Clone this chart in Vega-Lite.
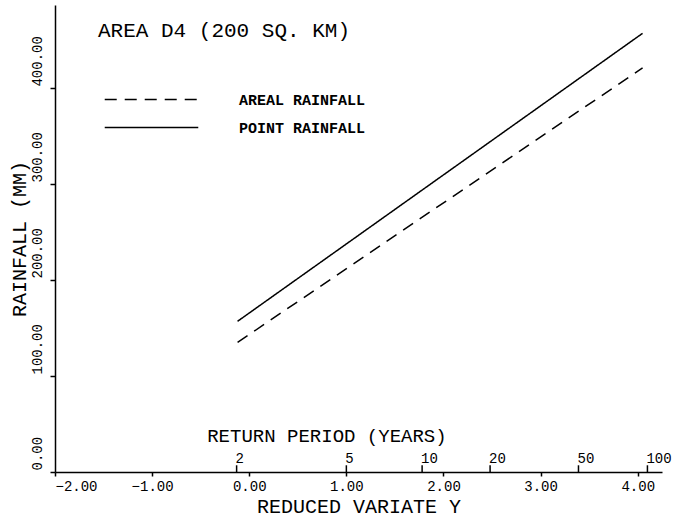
{
  "$schema": "https://vega.github.io/schema/vega-lite/v6.json",
  "width": 607,
  "height": 467,
  "autosize": "none",
  "padding": {"left": 55, "top": 5, "right": 29, "bottom": 50},
  "background": "white",
  "config": {
    "view": {"stroke": null},
    "font": "Liberation Mono",
    "axis": {
      "grid": false,
      "domainColor": "black",
      "domainWidth": 1.5,
      "tickColor": "black",
      "tickWidth": 1.5,
      "labelColor": "black",
      "titleColor": "black",
      "labelFont": "Liberation Mono",
      "titleFont": "Liberation Mono",
      "titleFontWeight": "normal"
    }
  },
  "title": {
    "text": "AREA D4 (200 SQ. KM)",
    "anchor": "start",
    "frame": "group",
    "orient": "top",
    "offset": 0,
    "dx": 43,
    "dy": 36,
    "baseline": "top",
    "font": "Liberation Mono",
    "fontSize": 21,
    "fontWeight": "normal",
    "color": "black"
  },
  "datasets": {
    "rainfall": [
      {"series": "AREAL RAINFALL", "variate": -0.12, "rainfall": 135},
      {"series": "AREAL RAINFALL", "variate": 4.05, "rainfall": 421},
      {"series": "POINT RAINFALL", "variate": -0.12, "rainfall": 157},
      {"series": "POINT RAINFALL", "variate": 4.05, "rainfall": 457}
    ],
    "periods": [
      {"period": "2", "variate": -0.13},
      {"period": "5", "variate": 1.0},
      {"period": "10", "variate": 1.78},
      {"period": "20", "variate": 2.48},
      {"period": "50", "variate": 3.39},
      {"period": "100", "variate": 4.1}
    ],
    "captions": [
      {"caption": "RETURN PERIOD (YEARS)", "variate": 0.8, "rainfall": 37}
    ]
  },
  "layer": [
    {
      "data": {"name": "rainfall"},
      "mark": {"type": "line", "stroke": "black", "strokeWidth": 1.5},
      "encoding": {
        "x": {
          "field": "variate",
          "type": "quantitative",
          "title": "REDUCED VARIATE Y",
          "scale": {"domain": [-2, 4.25], "nice": false, "zero": false},
          "axis": {
            "values": [-2, -1, 0, 1, 2, 3, 4],
            "format": ".2f",
            "tickSize": 4,
            "labelFontSize": 14,
            "labelPadding": 3,
            "titleFontSize": 20,
            "titlePadding": 3
          }
        },
        "y": {
          "field": "rainfall",
          "type": "quantitative",
          "title": "RAINFALL (MM)",
          "scale": {"domain": [0, 486.5], "nice": false},
          "axis": {
            "values": [0, 100, 200, 300, 400],
            "format": ".2f",
            "tickSize": 5,
            "labelAngle": -90,
            "labelAlign": "left",
            "labelBaseline": "bottom",
            "labelOffset": -2,
            "labelFontSize": 14,
            "labelPadding": 6,
            "titleFontSize": 20,
            "titlePadding": 1
          }
        },
        "strokeDash": {
          "field": "series",
          "type": "nominal",
          "scale": {
            "domain": ["AREAL RAINFALL", "POINT RAINFALL"],
            "range": [[12, 8], [1, 0]]
          },
          "legend": {
            "orient": "none",
            "legendX": 86,
            "legendY": 84,
            "title": null,
            "symbolType": "M-5,0H5",
            "symbolSize": 350,
            "symbolStrokeColor": "black",
            "symbolStrokeWidth": 1.5,
            "labelFont": "Liberation Mono",
            "labelFontSize": 15,
            "labelFontWeight": "bold",
            "labelColor": "black",
            "labelOffset": 77,
            "rowPadding": 9
          }
        }
      }
    },
    {
      "data": {"name": "periods"},
      "mark": {"type": "rule", "stroke": "black", "strokeWidth": 1.5},
      "encoding": {
        "x": {"field": "variate", "type": "quantitative", "title": "REDUCED VARIATE Y"},
        "y": {"datum": 0, "title": "RAINFALL (MM)"},
        "y2": {"datum": 7}
      }
    },
    {
      "data": {"name": "periods"},
      "mark": {"type": "text", "align": "left", "baseline": "middle", "dx": -1, "dy": -13, "fontSize": 14, "font": "Liberation Mono", "color": "black"},
      "encoding": {
        "x": {"field": "variate", "type": "quantitative", "title": "REDUCED VARIATE Y"},
        "y": {"datum": 0, "title": "RAINFALL (MM)"},
        "text": {"field": "period"}
      }
    },
    {
      "data": {"name": "captions"},
      "mark": {"type": "text", "align": "center", "baseline": "middle", "fontSize": 19, "font": "Liberation Mono", "color": "black"},
      "encoding": {
        "x": {"field": "variate", "type": "quantitative", "title": "REDUCED VARIATE Y"},
        "y": {"field": "rainfall", "type": "quantitative", "title": "RAINFALL (MM)"},
        "text": {"field": "caption"}
      }
    }
  ]
}
